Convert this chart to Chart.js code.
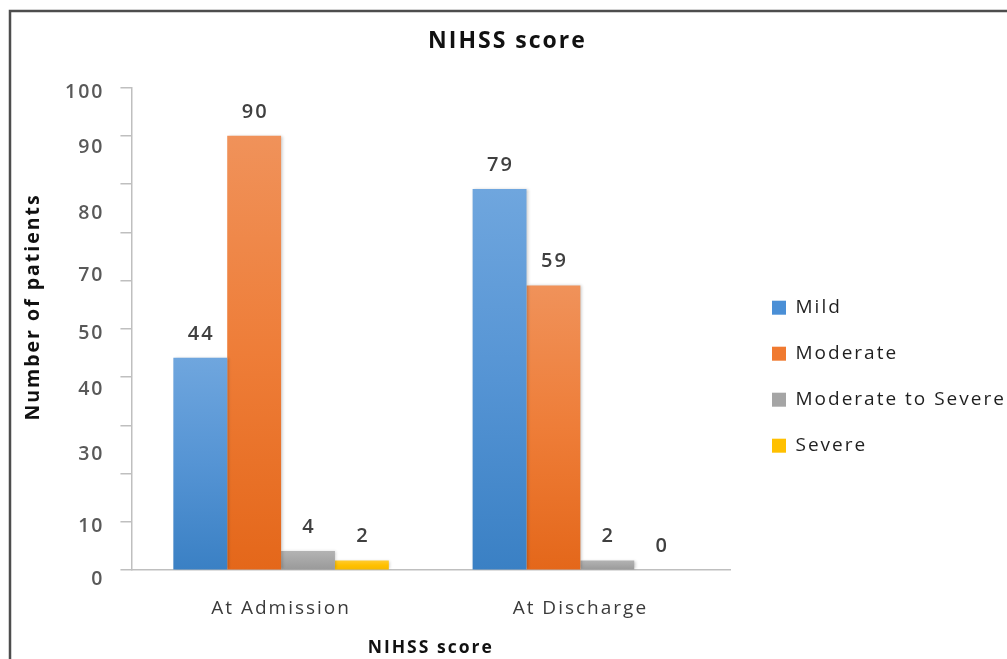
<!DOCTYPE html>
<html>
<head>
<meta charset="utf-8">
<script src="https://cdn.jsdelivr.net/npm/chart.js@4.4.1/dist/chart.umd.min.js"></script>
<style>
  html, body { margin: 0; padding: 0; background: #ffffff; }
  #wrap { width: 1007px; height: 659px; position: relative; }
</style>
</head>
<body>
<div id="wrap"><canvas id="c" width="1007" height="659"></canvas></div>
<script>
// Categories, series and axis labels
const categories = ['At Admission', 'At Discharge'];
const seriesNames = ['Mild', 'Moderate', 'Moderate to Severe', 'Severe'];
const mild = [44, 79];
const moderate = [90, 59];
const moderateToSevere = [4, 2];
const severe = [2, 0];
// y-axis label texts and the scale values they are printed at
const yTickLabels = ['100', '90', '80', '70', '50', '40', '30', '10', '0'];
const yTickLabelValues = [99, 87.5, 74, 61, 49, 37.5, 24, 9, -2];

const FONT = '"Open Sans", "Liberation Sans", sans-serif';
Chart.defaults.font.family = FONT;
const SPACING = '2px';
const LEGEND_WIDTH = 260;
const Y_TITLE_ROOM = 39;

// bar fills: [legend colour, top of bar, middle, bottom of bar]
const palette = [
  ['#4a8fd6', '#6fa6de', '#5594d4', '#3a80c4'],
  ['#f07a30', '#f0925a', '#ee7d38', '#e4671a'],
  ['#a5a5a5', '#b3b3b3', '#a6a6a6', '#999999'],
  ['#ffc000', '#ffcb2e', '#ffc000', '#f5b800']
];

function barFill(idx) {
  return (ctx) => {
    const chart = ctx.chart;
    const c = palette[idx];
    if (ctx.type !== 'data' || !chart.chartArea || !chart.scales.y) return c[0];
    const y = chart.scales.y;
    const top = y.getPixelForValue(ctx.raw);
    const bottom = y.getPixelForValue(0);
    if (bottom - top < 1) return c[2];
    const g = chart.ctx.createLinearGradient(0, top, 0, bottom);
    g.addColorStop(0, c[1]);
    g.addColorStop(0.5, c[2]);
    g.addColorStop(1, c[3]);
    return g;
  };
}

const seriesValues = [mild, moderate, moderateToSevere, severe];

// wide letter spacing for all text, plus the outer frame
const textSpacing = {
  id: 'textSpacing',
  beforeUpdate(chart) { chart.ctx.letterSpacing = SPACING; },
  beforeLayout(chart) { chart.ctx.letterSpacing = SPACING; },
  beforeDraw(chart) {
    const ctx = chart.ctx;
    ctx.letterSpacing = SPACING;
    ctx.save();
    ctx.fillStyle = '#ffffff';
    ctx.fillRect(0, 0, chart.width, chart.height);
    ctx.strokeStyle = '#4d4d4d';
    ctx.lineWidth = 2.5;
    ctx.strokeRect(10, 11, chart.width + 40, chart.height + 40);
    ctx.restore();
  }
};

// the legend column keeps a fixed width on the right
const legendWidth = {
  id: 'legendWidth',
  afterInit(chart) {
    const lg = chart.legend;
    if (!lg) return;
    const fit = lg.fit;
    lg.fit = function () {
      fit.call(this);
      this.width = LEGEND_WIDTH;
    };
  }
};

// soft shadow on bars and the value above each bar
const barValues = {
  id: 'barValues',
  beforeDatasetsDraw(chart) {
    const ctx = chart.ctx;
    ctx.shadowColor = 'rgba(0,0,0,0.22)';
    ctx.shadowBlur = 3;
    ctx.shadowOffsetX = 1.5;
    ctx.shadowOffsetY = 0;
  },
  afterDatasetsDraw(chart) {
    const ctx = chart.ctx;
    ctx.shadowColor = 'rgba(0,0,0,0)';
    ctx.shadowBlur = 0;
    ctx.shadowOffsetX = 0;
    ctx.save();
    ctx.letterSpacing = SPACING;
    ctx.font = '600 20px ' + FONT;
    ctx.fillStyle = '#404040';
    ctx.textAlign = 'center';
    ctx.textBaseline = 'middle';
    chart.data.datasets.forEach((ds, i) => {
      const meta = chart.getDatasetMeta(i);
      meta.data.forEach((bar, j) => {
        ctx.fillText(String(ds.data[j]), bar.x + 1, bar.y - 24);
      });
    });
    ctx.restore();
  }
};

// rotated y-axis title, set in the room left of the tick labels
const yTitle = {
  id: 'yTitle',
  afterDraw(chart) {
    const { ctx, chartArea } = chart;
    const labelsAxis = chart.scales.yLabels;
    ctx.save();
    ctx.letterSpacing = SPACING;
    ctx.font = 'bold 19.5px ' + FONT;
    ctx.fillStyle = '#111111';
    ctx.textAlign = 'center';
    ctx.textBaseline = 'middle';
    ctx.translate(labelsAxis.left + 23, (chartArea.top + chartArea.bottom) / 2 - 22);
    ctx.rotate(-Math.PI / 2);
    ctx.fillText('Number of patients', 0, 0);
    ctx.restore();
  }
};

new Chart(document.getElementById('c'), {
  type: 'bar',
  data: {
    labels: categories,
    datasets: seriesNames.map((name, i) => ({
      label: name,
      data: seriesValues[i],
      backgroundColor: barFill(i),
      borderWidth: 0,
      categoryPercentage: 0.72,
      barPercentage: 1
    }))
  },
  options: {
    responsive: false,
    animation: false,
    devicePixelRatio: 1,
    layout: { padding: { left: 10, right: 2, top: 18, bottom: 0 } },
    plugins: {
      title: {
        display: true,
        text: 'NIHSS score',
        color: '#111111',
        font: { size: 23, weight: 'bold' },
        padding: { top: 10, bottom: 32 }
      },
      legend: {
        position: 'right',
        align: 'center',
        title: { display: true, text: '', padding: { top: 62, bottom: 0 } },
        labels: {
          boxWidth: 14,
          boxHeight: 14,
          padding: 27,
          color: '#1f1f1f',
          font: { size: 19 },
          generateLabels(chart) {
            return Chart.defaults.plugins.legend.labels.generateLabels(chart).map((l, i) => ({
              ...l, fillStyle: palette[i][0], strokeStyle: palette[i][0], lineWidth: 0
            }));
          }
        }
      },
      tooltip: { enabled: false }
    },
    scales: {
      x: {
        grid: { display: false, drawTicks: false },
        border: { display: true, color: '#bfbfbf', width: 1.5 },
        ticks: { color: '#3a3a3a', font: { size: 19 }, padding: 27 },
        title: {
          display: true,
          text: 'NIHSS score',
          color: '#111111',
          font: { size: 17.5, weight: 'bold' },
          padding: { top: -9, bottom: 0 }
        }
      },
      y: {
        min: 0,
        max: 100,
        weight: 0,
        ticks: { stepSize: 10, display: false },
        grid: { drawOnChartArea: false, drawTicks: true, tickLength: 11, color: '#bfbfbf', lineWidth: 1.5 },
        border: { display: true, color: '#bfbfbf', width: 1.5 }
      },
      yLabels: {
        type: 'linear',
        position: 'left',
        weight: 1,
        min: 0,
        max: 100,
        grid: { display: false, drawTicks: false },
        border: { display: false },
        afterBuildTicks(scale) {
          scale.ticks = yTickLabelValues.map(v => ({ value: v }));
        },
        afterFit(scale) { scale.width += Y_TITLE_ROOM; },
        ticks: {
          autoSkip: false,
          padding: 16,
          color: '#595959',
          font: { size: 19.5, weight: '600' },
          callback: (v, i) => yTickLabels[i]
        }
      },
      yGap: {
        type: 'linear',
        position: 'right',
        weight: 0,
        min: 0,
        max: 100,
        grid: { display: false, drawTicks: false },
        border: { display: false },
        ticks: { display: false },
        afterFit(scale) { scale.width = 15; }
      }
    }
  },
  plugins: [textSpacing, legendWidth, barValues, yTitle]
});
</script>
</body>
</html>
